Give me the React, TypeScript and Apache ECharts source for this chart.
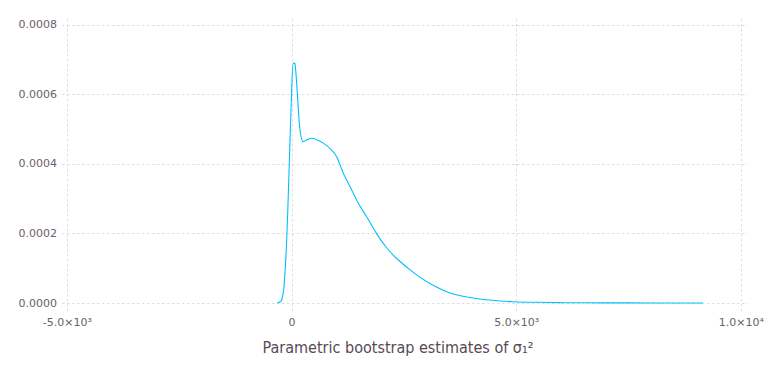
import React, { useEffect, useRef } from "react";
import * as echarts from "echarts";

const xValues = [-327, -280, -230, -178, -118, -67, -7, 30, 67, 119, 178, 252, 326, 438, 512, 697, 883, 994, 1142, 1291, 1476, 1662, 1885, 2107, 2330, 2700, 3071, 3516, 4183, 4918, 5500, 6000, 7000, 8000, 9146];
const densityValues = [0, 0.000002, 0.0000086, 0.000047, 0.000181, 0.000374, 0.000613, 0.00069, 0.000688, 0.000603, 0.000498, 0.000464, 0.000469, 0.000474, 0.000472, 0.00046, 0.00044, 0.000421, 0.000373, 0.000335, 0.000287, 0.000248, 0.000199, 0.000159, 0.000128, 0.000088, 0.000056, 0.000029, 0.0000115, 0.0000038, 0.000002, 0.000001, 0.0000005, 0.0000002, 0.0000001];
const xTicks = [-5000, 0, 5000, 10000];
const xTickLabels = ["-5.0×10³", "0", "5.0×10³", "1.0×10⁴"];
const yTicks = [0, 0.0002, 0.0004, 0.0006, 0.0008];
const xTitle = "Parametric bootstrap estimates of σ₁²";

export default function App() {
  const ref = useRef<HTMLDivElement>(null);
  useEffect(() => {
    if (!ref.current) return;
    const chart = echarts.init(ref.current, null, { renderer: "svg" });
    const gridLine = { show: true, lineStyle: { color: "#dcdce6", width: 1, type: [2.5, 2.5] as any } };
    chart.setOption({
      animation: false,
      backgroundColor: "#ffffff",
      grid: { left: 62, right: 20, top: 19, bottom: 73 },
      xAxis: {
        type: "value",
        min: -5118,
        max: 10147,
        axisLine: { show: false },
        axisTick: { show: false, customValues: xTicks },
        splitLine: gridLine,
        axisLabel: {
          customValues: xTicks,
          margin: 6,
          color: "#6c606b",
          fontFamily: "DejaVu Sans",
          fontSize: 11,
          formatter: (v: number) => {
            const i = xTicks.indexOf(v);
            return i >= 0 ? xTickLabels[i] : "";
          },
        },
        name: xTitle,
        nameLocation: "middle",
        nameGap: 28,
        nameTextStyle: {
          color: "#564a55",
          fontFamily: "DejaVu Sans Condensed, DejaVu Sans",
          fontSize: 16,
          padding: [0, 14, 0, 0],
        },
      },
      yAxis: {
        type: "value",
        min: -0.000023,
        max: 0.000817,
        axisLine: { show: false },
        axisTick: { show: false, customValues: yTicks },
        splitLine: gridLine,
        axisLabel: {
          customValues: yTicks,
          margin: 5,
          color: "#6c606b",
          fontFamily: "DejaVu Sans",
          fontSize: 11,
          formatter: (v: number) => v.toFixed(4),
        },
      },
      series: [
        {
          type: "line",
          data: xValues.map((x, i) => [x, densityValues[i]]),
          showSymbol: false,
          smooth: 0.3,
          lineStyle: { color: "#00bfff", width: 1.1 },
        },
      ],
    });
    return () => chart.dispose();
  }, []);
  return <div ref={ref} style={{ position: "fixed", left: 0, top: 0, width: 768, height: 384 }} />;
}
